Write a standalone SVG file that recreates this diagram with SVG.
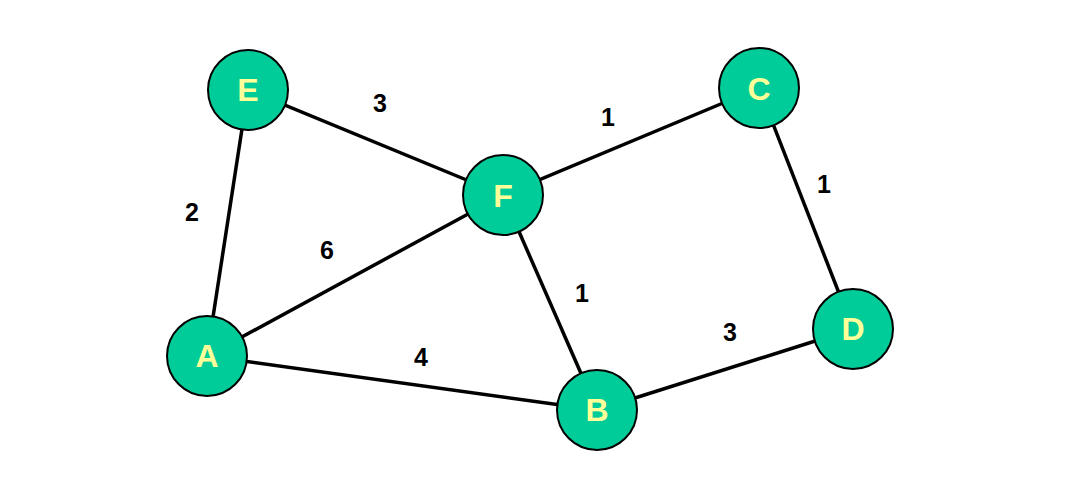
<svg xmlns="http://www.w3.org/2000/svg" width="1089" height="485" viewBox="0 0 1089 485">
<style>
.edge{stroke:#000;stroke-width:3.5;fill:none}
.node circle{fill:#00CC99;stroke:#000;stroke-width:2}
.node text{font-family:"Liberation Sans",Arial,sans-serif;font-weight:bold;font-size:32px;fill:#FFFF99;text-anchor:middle;dominant-baseline:central}
.w{font-family:"Liberation Sans",Arial,sans-serif;font-weight:bold;font-size:25px;fill:#000;text-anchor:middle;dominant-baseline:central}
</style>
<rect width="1089" height="485" fill="#fff"/>
<g id="connectors">
<line class="edge" x1="248" y1="90" x2="503" y2="195"/>
<line class="edge" x1="248" y1="90" x2="207" y2="356"/>
<line class="edge" x1="207" y1="356" x2="503" y2="195"/>
<line class="edge" x1="207" y1="356" x2="597" y2="410"/>
<line class="edge" x1="503" y1="195" x2="597" y2="410"/>
<line class="edge" x1="503" y1="195" x2="759" y2="88"/>
<line class="edge" x1="759" y1="88" x2="853" y2="329"/>
<line class="edge" x1="597" y1="410" x2="853" y2="329"/>
<text class="w" x="380" y="103">3</text>
<text class="w" x="608" y="117">1</text>
<text class="w" x="824" y="184">1</text>
<text class="w" x="192" y="212">2</text>
<text class="w" x="327" y="250">6</text>
<text class="w" x="582" y="293">1</text>
<text class="w" x="730" y="332">3</text>
<text class="w" x="421" y="357">4</text>
</g>
<g id="E" class="node"><circle cx="248" cy="90" r="40"/><text x="248" y="90">E</text></g>
<g id="F" class="node"><circle cx="503" cy="195" r="40"/><text x="503" y="196">F</text></g>
<g id="A" class="node"><circle cx="207" cy="356" r="40"/><text x="207" y="356">A</text></g>
<g id="B" class="node"><circle cx="597" cy="410" r="40"/><text x="597" y="410">B</text></g>
<g id="C" class="node"><circle cx="759" cy="88" r="40"/><text x="759" y="89">C</text></g>
<g id="D" class="node"><circle cx="853" cy="329" r="40"/><text x="853" y="329">D</text></g>
</svg>
